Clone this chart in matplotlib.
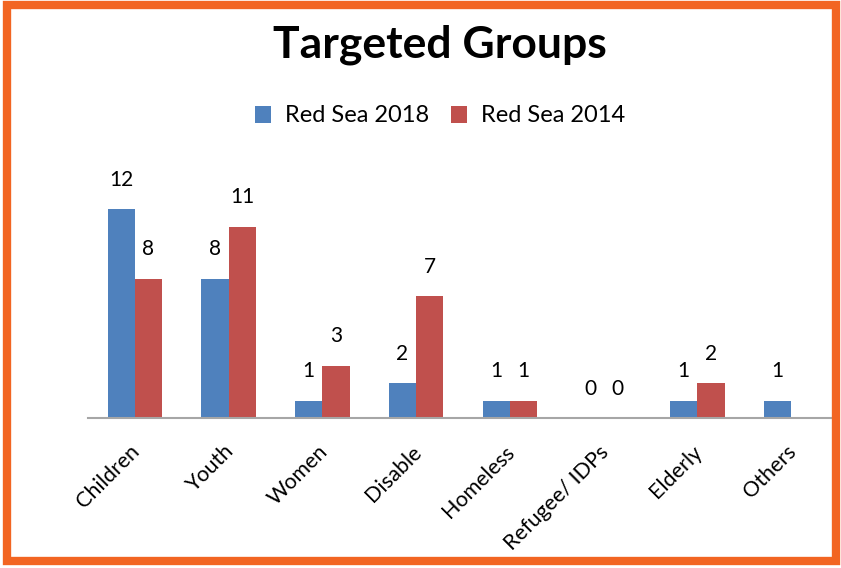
import numpy as np
import matplotlib.pyplot as plt
from matplotlib.patches import Rectangle
import matplotlib.transforms as mtransforms

plt.rcParams['font.family'] = ['Lato', 'DejaVu Sans']

categories = ["Children", "Youth", "Women", "Disable", "Homeless",
              "Refugee/ IDPs", "Elderly", "Others"]
sea_2018 = [12, 8, 1, 2, 1, 0, 1, 1]
sea_2014 = [8, 11, 3, 7, 1, 0, 2, None]
series_names = ["Red Sea 2018", "Red Sea 2014"]

blue = "#4F81BD"
red = "#C0504D"

fig = plt.figure(figsize=(8.41, 5.68), dpi=100)
ax = fig.add_axes([88 / 841, 150 / 568, 750 / 841, 288 / 568])

x = np.arange(len(categories))
w = 0.29
v18 = np.array(sea_2018, dtype=float)
v14 = np.array([np.nan if v is None else v for v in sea_2014], dtype=float)

b1 = ax.bar(x - w / 2, v18, w, color=blue, label=series_names[0])
b2 = ax.bar(x + w / 2, np.nan_to_num(v14), w, color=red, label=series_names[1])

for xi, v in zip(x - w / 2, sea_2018):
    ax.annotate(str(v), (xi, v), xytext=(0, 14), textcoords="offset points",
                ha="center", va="bottom", fontsize=15)
for xi, v in zip(x + w / 2, sea_2014):
    if v is None:
        continue
    ax.annotate(str(v), (xi, v), xytext=(0, 14), textcoords="offset points",
                ha="center", va="bottom", fontsize=15)

ax.set_xlim(-0.5, len(categories) - 0.5)
ax.set_ylim(0, 16.55)
ax.set_yticks([])
for s in ["top", "right", "left"]:
    ax.spines[s].set_visible(False)
ax.spines["bottom"].set_color("#A6A6A6")
ax.spines["bottom"].set_linewidth(1.5)

ax.set_xticks(x)
ax.set_xticklabels(categories, rotation=45, ha="right", fontsize=15.5)
ax.tick_params(axis="x", length=0, pad=17)
offset = mtransforms.ScaledTranslation(9 / 100, 0, fig.dpi_scale_trans)
for lbl in ax.get_xticklabels():
    lbl.set_transform(lbl.get_transform() + offset)

fig.text(440 / 841, 1 - 45 / 568, "Targeted Groups", ha="center", va="center",
         fontsize=32, fontweight="bold")
fig.legend(handles=[b1, b2], loc="center", bbox_to_anchor=(440 / 841, 1 - 116 / 568),
           ncol=2, frameon=False, fontsize=17, handlelength=0.7, handleheight=0.7,
           handletextpad=0.6, columnspacing=0.9)

fig.patches.append(Rectangle((7 / 841, 7 / 568), 829 / 841, 556 / 568,
                             transform=fig.transFigure, fill=False,
                             edgecolor="#F26522", linewidth=6))

fig.savefig("out.png", dpi=100)
